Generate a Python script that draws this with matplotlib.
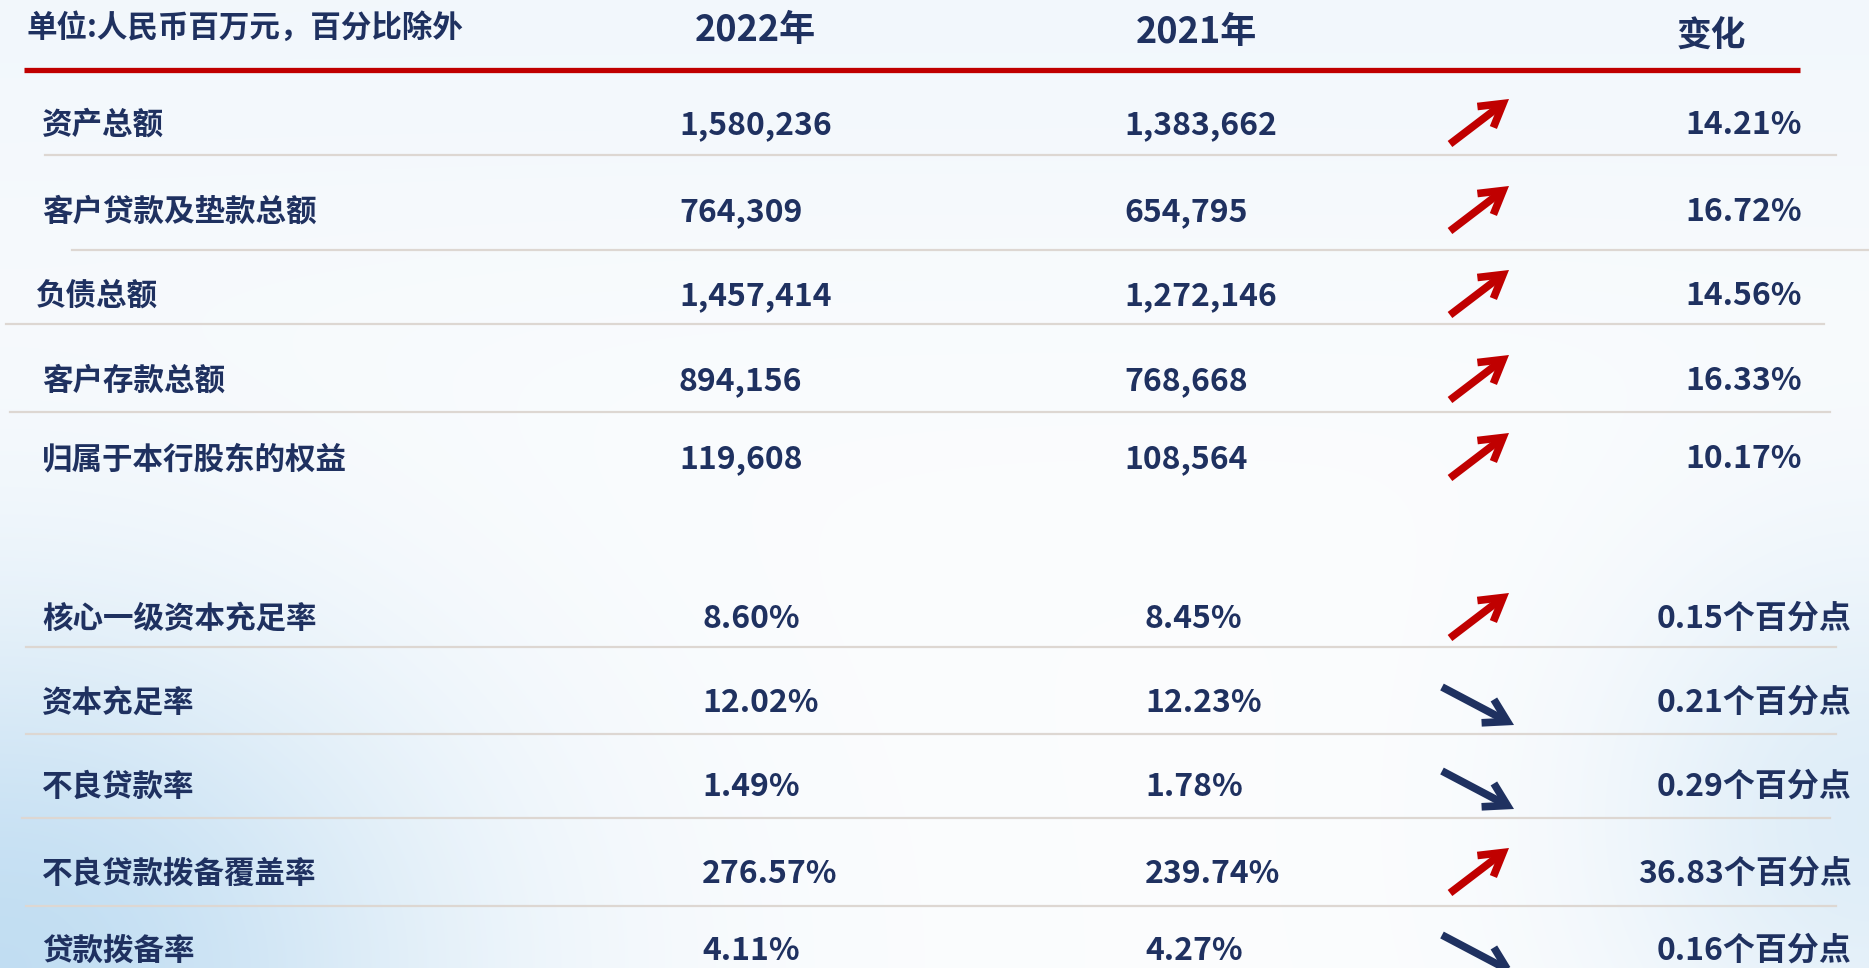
import numpy as np
import matplotlib.pyplot as plt

plt.rcParams['font.family'] = ['Noto Sans CJK SC', 'DejaVu Sans']

NAVY = '#1f3160'
RED = '#c00000'
GRID = '#ddd7d2'

unit_note = '单位:人民币百万元，百分比除外'
years = ['2022年', '2021年']
change_title = '变化'

# 规模指标（人民币百万元）
scale_items = ['资产总额', '客户贷款及垫款总额', '负债总额', '客户存款总额', '归属于本行股东的权益']
scale_2022 = [1580236, 764309, 1457414, 894156, 119608]
scale_2021 = [1383662, 654795, 1272146, 768668, 108564]
scale_change = [14.21, 16.72, 14.56, 16.33, 10.17]

# 比率指标（%）
ratio_items = ['核心一级资本充足率', '资本充足率', '不良贷款率', '不良贷款拨备覆盖率', '贷款拨备率']
ratio_2022 = [8.60, 12.02, 1.49, 276.57, 4.11]
ratio_2021 = [8.45, 12.23, 1.78, 239.74, 4.27]
ratio_change = [0.15, 0.21, 0.29, 36.83, 0.16]

W, H = 1869, 968
fig = plt.figure(figsize=(W / 100, H / 100), dpi=100)
ax = fig.add_axes([0, 0, 1, 1])
ax.set_xlim(0, W)
ax.set_ylim(H, 0)
ax.axis('off')

# 浅色水彩背景
yy, xx = np.mgrid[0:H, 0:W]
tint = np.zeros((H, W))
tint += 1.0 * np.exp(-(((xx - 0) / 450.0) ** 2 + ((yy - 968) / 360.0) ** 2))
tint += 0.5 * np.exp(-(((xx - 1869) / 260.0) ** 2 + ((yy - 820) / 280.0) ** 2))
tint += 0.15 * np.exp(-(((yy - 0) / 300.0) ** 2))
tint = np.clip(tint, 0, 1)
base = np.array([0.985, 0.99, 0.995])
blue = np.array([0.76, 0.87, 0.95])
bg = base[None, None, :] * (1 - tint[..., None]) + blue[None, None, :] * tint[..., None]
ax.imshow(bg, extent=[0, W, H, 0], aspect='auto', zorder=0)

WEIGHT = 'heavy'

# 表头
ax.text(26, 28, unit_note, fontsize=22, fontweight=WEIGHT, color=NAVY, va='center', ha='left')
ax.text(755, 30, years[0], fontsize=26, fontweight=WEIGHT, color=NAVY, va='center', ha='center')
ax.text(1196, 32, years[1], fontsize=26, fontweight=WEIGHT, color=NAVY, va='center', ha='center')
ax.text(1711, 36, change_title, fontsize=25, fontweight=WEIGHT, color=NAVY, va='center', ha='center')
ax.plot([24, 1800], [70, 70], color=RED, lw=3.8, solid_capstyle='butt', zorder=2)


def arrow(y, up):
    if up:
        tail, head, col = (1450, y + 19), (1509, y - 26), RED
    else:
        tail, head, col = (1442, y - 16), (1514, y + 22), NAVY
    ax.annotate('', xy=head, xytext=tail, annotation_clip=False,
                arrowprops=dict(arrowstyle='->,head_length=1.6,head_width=0.95',
                                color=col, lw=5.5, shrinkA=0, shrinkB=0,
                                joinstyle='miter', capstyle='butt'),
                zorder=3)


def draw_rows(items, v22, v21, chg, ys, fmt_val, fmt_chg, x22, x21, xchg, label_x):
    for i, name in enumerate(items):
        y = ys[i]
        ax.text(label_x[i], y, name, fontsize=22, fontweight=WEIGHT, color=NAVY, va='center', ha='left')
        ax.text(x22, y, fmt_val(v22[i]), fontsize=23, fontweight=WEIGHT, color=NAVY, va='center', ha='left')
        ax.text(x21, y, fmt_val(v21[i]), fontsize=23, fontweight=WEIGHT, color=NAVY, va='center', ha='left')
        ax.text(xchg, y, fmt_chg(chg[i]), fontsize=23, fontweight=WEIGHT, color=NAVY, va='center', ha='right')
        arrow(y, v22[i] > v21[i])


top_y = [125, 212, 296, 381, 459]
draw_rows(scale_items, scale_2022, scale_2021, scale_change, top_y,
          lambda v: f'{v:,}', lambda v: f'{v:.2f}%',
          679, 1124, 1802, [42, 42, 36, 42, 42])

bot_y = [619, 703, 787, 874, 951]
draw_rows(ratio_items, ratio_2022, ratio_2021, ratio_change, bot_y,
          lambda v: f'{v:.2f}%', lambda v: f'{v:.2f}个百分点',
          702, 1145, 1852, [42] * 5)

# 分隔线
top_lines = [(155, 45, 1836), (250, 72, 1869), (324, 6, 1824), (412, 10, 1830)]
bot_lines = [(647, 26, 1836), (734, 26, 1836), (818, 22, 1830), (906, 26, 1836)]
for y, x0, x1 in top_lines + bot_lines:
    ax.plot([x0, x1], [y, y], color=GRID, lw=1.6, zorder=1)

fig.savefig('out.png', dpi=100)
